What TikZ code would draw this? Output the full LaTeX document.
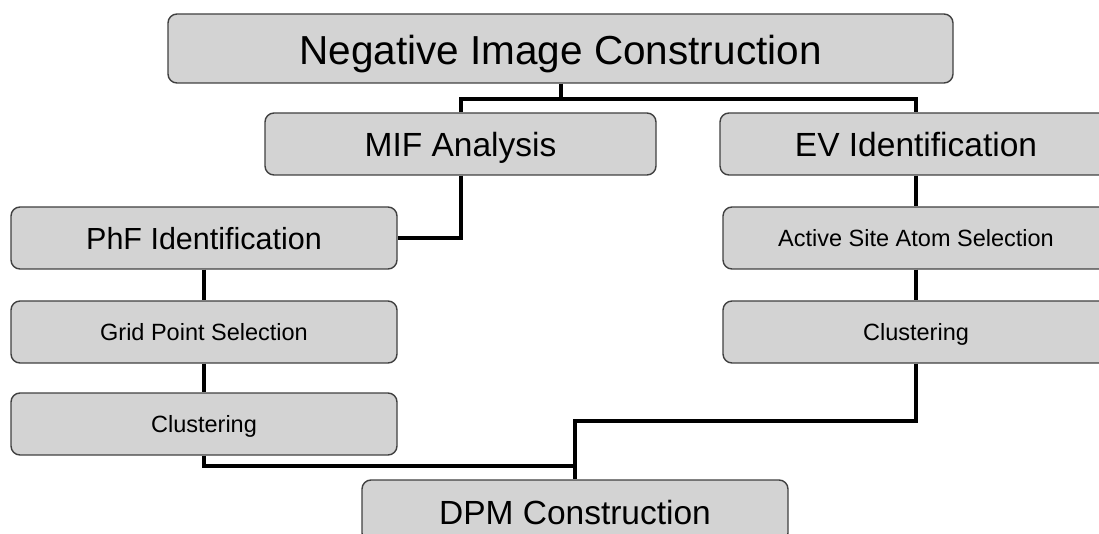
\documentclass[tikz,border=0pt]{standalone}
\usepackage{fontspec}
\setmainfont{Liberation Sans}
\definecolor{boxfill}{RGB}{211,211,211}
\definecolor{boxline}{RGB}{64,64,64}
\begin{document}
\begin{tikzpicture}[x=1pt, y=-1pt,
    stage/.style={draw=boxline, line width=1.4pt, fill=boxfill, rounded corners=9pt,
      inner sep=0pt, minimum height=62pt, minimum width=386pt, text depth=0pt},
    bigtext/.style={font=\fontsize{40.5}{48}\selectfont, text height=32pt},
    midtext/.style={font=\fontsize{33.5}{40}\selectfont, text height=26pt},
    smalltext/.style={font=\fontsize{23.5}{28}\selectfont, text height=16.8pt},
    link/.style={line width=4pt, line join=miter}]
        \useasboundingbox (0,0) rectangle (1099,534);
        % stages
        \node [stage, bigtext, minimum width=785pt, minimum height=69pt] (nic) at (560.5, 48.5) {Negative Image Construction};
        \node [stage, midtext, minimum width=391pt] (mif) at (460.5, 144) {MIF Analysis};
        \node [stage, midtext, minimum width=392pt] (ev) at (916, 144) {EV Identification};
        \node [stage, midtext, font=\fontsize{30.5}{36}\selectfont, text height=22.5pt] (phf) at (204, 238) {PhF Identification};
        \node [stage, smalltext] (asas) at (916, 238) {Active Site Atom Selection};
        \node [stage, smalltext] (gps) at (204, 332) {Grid Point Selection};
        \node [stage, smalltext] (clr) at (916, 332) {Clustering};
        \node [stage, smalltext] (cll) at (204, 424) {Clustering};
        \node [stage, midtext, minimum width=426pt] (dpm) at (575, 511) {DPM Construction};
        % connectors
        \coordinate (split) at (560.5, 99);
        \coordinate (joinr) at (575, 421);
        \coordinate (joinl) at (575, 466);
        \draw [link] (nic.south) -- (split);
        \draw [link] (mif.north) |- (split) -| (ev.north);
        \draw [link] (mif.south) |- (phf.east);
        \draw [link] (ev.south) -- (asas.north);
        \draw [link] (phf.south) -- (gps.north);
        \draw [link] (gps.south) -- (cll.north);
        \draw [link] (asas.south) -- (clr.north);
        \draw [link] (clr.south) |- (joinr) -- (dpm.north);
        \draw [link] (cll.south) |- (joinl);
      \end{tikzpicture}
\end{document}
